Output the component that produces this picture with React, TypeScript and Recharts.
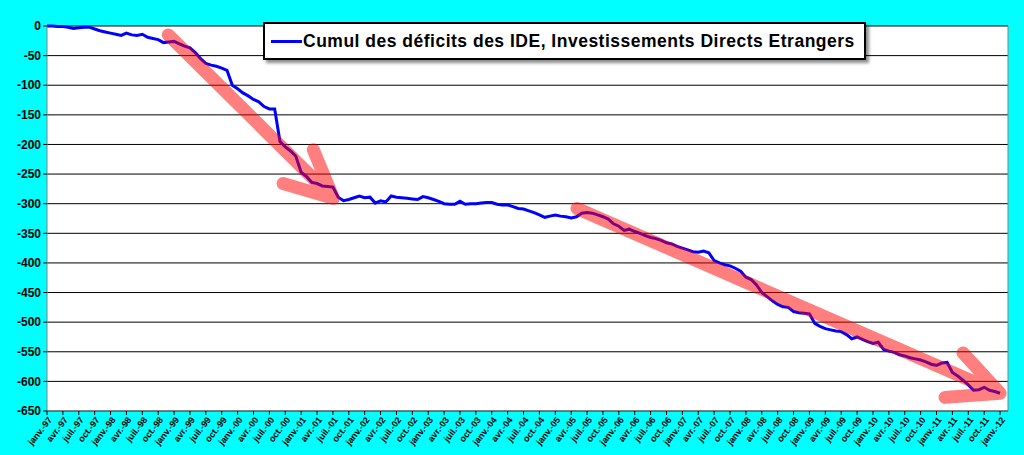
import React from "react";
import { LineChart, Line, XAxis, YAxis, CartesianGrid, ReferenceLine, Legend } from "recharts";

// cumulative FDI deficit, one value per month
const y1997 = [0, 0, -1, -1, -2, -4, -3, -2, -2, -5, -8, -10];
const y1998 = [-12, -14, -16, -12, -15, -16, -14, -19, -21, -23, -28, -27];
const y1999 = [-26, -30, -34, -37, -45, -55, -63, -66, -68, -71, -75, -100];
const y2000 = [-106, -113, -118, -124, -128, -136, -140, -140, -195, -204, -211, -220];
const y2001 = [-247, -254, -264, -266, -270, -271, -272, -289, -295, -293, -290, -287];
const y2002 = [-290, -289, -299, -295, -297, -287, -289, -290, -291, -292, -293, -288];
const y2003 = [-290, -293, -296, -300, -301, -301, -296, -301, -300, -300, -299, -298];
const y2004 = [-298, -301, -302, -302, -305, -308, -309, -312, -315, -319, -323, -321];
const y2005 = [-319, -321, -322, -324, -322, -316, -315, -316, -319, -322, -326, -334];
const y2006 = [-338, -345, -343, -347, -350, -354, -357, -359, -362, -366, -368, -372];
const y2007 = [-375, -378, -381, -382, -380, -383, -396, -400, -403, -405, -409, -414];
const y2008 = [-424, -428, -437, -450, -457, -464, -470, -474, -475, -482, -484, -485];
const y2009 = [-486, -502, -507, -511, -513, -515, -516, -521, -528, -525, -529, -533];
const y2010 = [-536, -534, -546, -549, -551, -555, -557, -560, -562, -564, -567, -571];
const y2011 = [-573, -569, -568, -585, -591, -598, -606, -615, -614, -610, -615, -617];
const y2012 = [-620];

const cumul = [
  ...y1997, ...y1998, ...y1999, ...y2000, ...y2001, ...y2002, ...y2003, ...y2004,
  ...y2005, ...y2006, ...y2007, ...y2008, ...y2009, ...y2010, ...y2011, ...y2012,
];

const QUARTERS = ["janv.", "avr.", "juil.", "oct."];
const FIRST_YEAR = 1997;
const Y_TICKS = [0, -50, -100, -150, -200, -250, -300, -350, -400, -450, -500, -550, -600, -650];
const X_TICKS = Array.from({ length: 61 }, (_, i) => i * 3);

const SERIES_NAME = "Cumul des déficits des IDE, Investissements Directs Etrangers";

// hand drawn arrows: shaft start, tip, the two barb ends (month index, value)
const arrow1 = { start: [22.9, -15], tip: [54.1, -291], barbA: [50.3, -209], barbB: [44.6, -266] };
const arrow2 = { start: [100.1, -308], tip: [180, -620], barbA: [173, -552], barbB: [169.6, -627] };

const arrowPoints = (a: typeof arrow1) => [
  { m: a.start[0], v: a.start[1] },
  { m: a.tip[0], v: a.tip[1] },
  { m: a.tip[0], v: null },
  { m: a.barbA[0], v: a.barbA[1] },
  { m: a.tip[0], v: a.tip[1] },
  { m: a.barbB[0], v: a.barbB[1] },
];

const data = cumul.map((v, i) => ({ m: i, v }));

const monthLabel = (m: number) => {
  const yr = FIRST_YEAR + Math.floor(m / 12);
  return `${QUARTERS[Math.floor((m % 12) / 3)]}-${String(yr % 100).padStart(2, "0")}`;
};

const FONT = "Arial, 'Liberation Sans', sans-serif";

const XTick = (props: any) => {
  const { x, y, payload } = props;
  return (
    <g transform={`translate(${x + 3},${y + 1})`}>
      <text
        x={0}
        y={0}
        dy="0.35em"
        textAnchor="end"
        transform="rotate(-52)"
        fontSize={9}
        fontWeight="bold"
        fontFamily={FONT}
        fill="#000"
      >
        {monthLabel(payload.value)}
      </text>
    </g>
  );
};

const LegendBox = () => (
  <div
    style={{
      position: "absolute",
      left: 263,
      top: 22,
      width: 599,
      height: 34,
      background: "#fff",
      border: "2px solid #000",
      boxShadow: "3px 3px 3px rgba(0,0,0,0.45)",
      display: "flex",
      alignItems: "center",
      fontFamily: FONT,
      fontWeight: "bold",
      fontSize: 17.5,
      letterSpacing: 0.5,
      color: "#000",
      whiteSpace: "nowrap",
    }}
  >
    <span style={{ display: "inline-block", width: 31, height: 3, background: "#0000ff", marginLeft: 6, marginRight: 1 }} />
    <span>{SERIES_NAME}</span>
  </div>
);

export default function App() {
  return (
    <div style={{ position: "absolute", left: 0, top: 0, width: 1024, height: 455, background: "#00ffff" }}>
      <LineChart width={1024} height={455} data={data} margin={{ top: 26, right: 16, bottom: 0, left: 0 }}>
        <CartesianGrid vertical={false} stroke="#000" fill="#fff" />
        <XAxis
          type="number"
          dataKey="m"
          domain={[0, 181.5]}
          ticks={X_TICKS}
          interval={0}
          tick={<XTick />}
          tickSize={4}
          height={44}
          axisLine={{ stroke: "#808080" }}
          tickLine={{ stroke: "#000" }}
        />
        <YAxis
          domain={[-650, 0]}
          ticks={Y_TICKS}
          interval={0}
          width={47}
          tickSize={4}
          axisLine={{ stroke: "#808080" }}
          tickLine={{ stroke: "#000" }}
          tick={{ fontSize: 12, fontWeight: "bold", fontFamily: FONT, fill: "#000" }}
        />
        <ReferenceLine x={181.5} stroke="#808080" />
        <Line
          dataKey="v"
          name={SERIES_NAME}
          stroke="#0000ff"
          strokeWidth={3}
          dot={false}
          isAnimationActive={false}
        />
        {[arrow1, arrow2].map((a, i) => (
          <Line
            key={i}
            data={arrowPoints(a)}
            dataKey="v"
            legendType="none"
            stroke="#ff0000"
            strokeOpacity={0.5}
            strokeWidth={13}
            strokeLinecap="round"
            strokeLinejoin="round"
            dot={false}
            activeDot={false}
            isAnimationActive={false}
          />
        ))}
        <Legend content={<LegendBox />} wrapperStyle={{ position: "absolute", left: 0, top: 0, width: 0, height: 0 }} />
      </LineChart>
    </div>
  );
}
